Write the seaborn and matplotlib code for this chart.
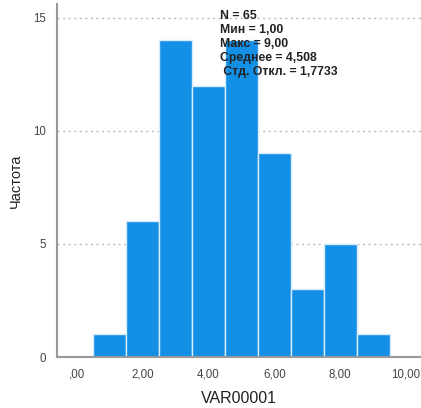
import numpy as np
import pandas as pd
import matplotlib
matplotlib.use("Agg")
import matplotlib.pyplot as plt
import seaborn as sns

# Частоты по интервалам (центры 1..9, ширина 1)
bin_centers = [1, 2, 3, 4, 5, 6, 7, 8, 9]
counts = [1, 6, 14, 12, 14, 9, 3, 5, 1]
bin_edges = [0.5, 1.5, 2.5, 3.5, 4.5, 5.5, 6.5, 7.5, 8.5, 9.5]
x_ticks = [0, 2, 4, 6, 8, 10]
x_tick_labels = [",00", "2,00", "4,00", "6,00", "8,00", "10,00"]
y_ticks = [0, 5, 10, 15]
stats_lines = ["N = 65", "Мин = 1,00", "Макс = 9,00", "Среднее = 4,508", " Стд. Откл. = 1,7733"]

df = pd.DataFrame({"VAR00001": bin_centers, "count": counts})

sns.set_theme(style="white")
plt.rcParams['font.family'] = ['Liberation Sans', 'DejaVu Sans']

fig = plt.figure(figsize=(4.21, 4.08), dpi=100)
ax = fig.add_axes([0.135, 0.125, 0.865, 0.865])

sns.histplot(data=df, x="VAR00001", weights="count", bins=bin_edges, ax=ax,
             color="#1390e6", alpha=1.0, edgecolor="#d8ecfb", linewidth=1.0)

ax.set_xlim(-0.6, 10.45)
ax.set_ylim(0, 15.6)
ax.set_yticks(y_ticks)
ax.set_yticklabels([str(v) for v in y_ticks])
ax.set_xticks(x_ticks)
ax.set_xticklabels(x_tick_labels)
ax.tick_params(axis="both", length=0, labelsize=8.3, colors="#444444", pad=8)

for v in y_ticks[1:]:
    ax.axhline(v, color="#bbbbbb", linestyle=(0, (1.5, 2.5)), linewidth=1.0, zorder=0)

for side in ["top", "right"]:
    ax.spines[side].set_visible(False)
for side in ["left", "bottom"]:
    ax.spines[side].set_color("#999999")
    ax.spines[side].set_linewidth(1.5)

ax.set_xlabel("VAR00001", fontsize=11.5, color="#222222", labelpad=8)
ax.set_ylabel("Частота", fontsize=10.5, color="#222222", labelpad=7)

ax.text(4.35, 15.35, "\n".join(stats_lines), fontsize=8.8, fontweight="bold",
        family=['Liberation Sans Narrow', 'Liberation Sans', 'DejaVu Sans'],
        color="#222222", va="top", ha="left", linespacing=1.22)

fig.savefig("out.png", dpi=100)
